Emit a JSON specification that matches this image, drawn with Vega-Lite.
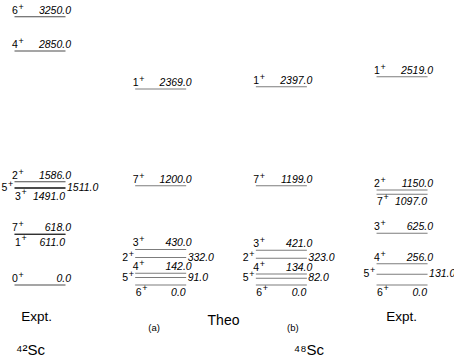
{
  "$schema": "https://vega.github.io/schema/vega-lite/v6.json",
  "width": 454,
  "height": 300,
  "padding": 0,
  "background": "white",
  "config": {"view": {"stroke": null}, "text": {"font": "Liberation Sans", "color": "black"}},
  "data": {"values": [
    {"col": "E42", "J": "6", "P": "+", "E": 3250.0, "pos": "above"},
    {"col": "E42", "J": "4", "P": "+", "E": 2850.0, "pos": "above"},
    {"col": "E42", "J": "2", "P": "+", "E": 1586.0, "pos": "above"},
    {"col": "E42", "J": "5", "P": "+", "E": 1511.0, "pos": "side"},
    {"col": "E42", "J": "3", "P": "+", "E": 1491.0, "pos": "below"},
    {"col": "E42", "J": "7", "P": "+", "E": 618.0, "pos": "above"},
    {"col": "E42", "J": "1", "P": "+", "E": 611.0, "pos": "below"},
    {"col": "E42", "J": "0", "P": "+", "E": 0.0, "pos": "above"},
    {"col": "TA", "J": "1", "P": "+", "E": 2369.0, "pos": "above"},
    {"col": "TA", "J": "7", "P": "+", "E": 1200.0, "pos": "above"},
    {"col": "TA", "J": "3", "P": "+", "E": 430.0, "pos": "above"},
    {"col": "TA", "J": "2", "P": "+", "E": 332.0, "pos": "side"},
    {"col": "TA", "J": "4", "P": "+", "E": 142.0, "pos": "above"},
    {"col": "TA", "J": "5", "P": "+", "E": 91.0, "pos": "side"},
    {"col": "TA", "J": "6", "P": "+", "E": 0.0, "pos": "below"},
    {"col": "TB", "J": "1", "P": "+", "E": 2397.0, "pos": "above"},
    {"col": "TB", "J": "7", "P": "+", "E": 1199.0, "pos": "above"},
    {"col": "TB", "J": "3", "P": "+", "E": 421.0, "pos": "above"},
    {"col": "TB", "J": "2", "P": "+", "E": 323.0, "pos": "side"},
    {"col": "TB", "J": "4", "P": "+", "E": 134.0, "pos": "above"},
    {"col": "TB", "J": "5", "P": "+", "E": 82.0, "pos": "side"},
    {"col": "TB", "J": "6", "P": "+", "E": 0.0, "pos": "below"},
    {"col": "E48", "J": "1", "P": "+", "E": 2519.0, "pos": "above"},
    {"col": "E48", "J": "2", "P": "+", "E": 1150.0, "pos": "above"},
    {"col": "E48", "J": "7", "P": "+", "E": 1097.0, "pos": "below"},
    {"col": "E48", "J": "3", "P": "+", "E": 625.0, "pos": "above"},
    {"col": "E48", "J": "4", "P": "+", "E": 256.0, "pos": "above"},
    {"col": "E48", "J": "5", "P": "+", "E": 131.0, "pos": "side"},
    {"col": "E48", "J": "6", "P": "+", "E": 0.0, "pos": "below"}
  ]},
  "encoding": {
    "x": {"field": "col", "type": "nominal", "scale": {"type": "point", "domain": ["E42", "TA", "TB", "E48"], "padding": 0.381, "align": 0.435}, "axis": null}
  },
  "layer": [
    {
      "transform": [{"filter": "datum.col == 'E42'"}],
      "encoding": {
        "y": {"field": "E", "type": "quantitative", "scale": {"domain": [-181, 618, 1550, 2850, 3446], "range": [300, 234, 185.5, 51, 0], "nice": false, "zero": false}, "axis": null}
      },
      "layer": [
        {
          "mark": {"type": "tick", "orient": "horizontal", "size": 51, "thickness": 1, "color": "#000000"}
        },
        {
          "transform": [{"filter": "datum.pos == 'above'"}],
          "mark": {"type": "text", "align": "left", "baseline": "alphabetic", "dx": -28, "dy": -3, "fontSize": 10.5},
          "encoding": {"text": {"field": "J"}}
        },
        {
          "transform": [{"filter": "datum.pos == 'above'"}],
          "mark": {"type": "text", "align": "left", "baseline": "alphabetic", "dx": -21.5, "dy": -7, "fontSize": 9},
          "encoding": {"text": {"field": "P"}}
        },
        {
          "transform": [{"filter": "datum.pos == 'above'"}],
          "mark": {"type": "text", "align": "right", "baseline": "alphabetic", "dx": 31, "dy": -3, "fontSize": 10.5, "fontStyle": "italic"},
          "encoding": {"text": {"field": "E", "type": "quantitative", "format": ".1f"}}
        },
        {
          "transform": [{"filter": "datum.pos == 'side'"}],
          "mark": {"type": "text", "align": "left", "baseline": "middle", "dx": -38.5, "dy": 0, "fontSize": 10.5},
          "encoding": {"text": {"field": "J"}}
        },
        {
          "transform": [{"filter": "datum.pos == 'side'"}],
          "mark": {"type": "text", "align": "left", "baseline": "middle", "dx": -32, "dy": -4, "fontSize": 9},
          "encoding": {"text": {"field": "P"}}
        },
        {
          "transform": [{"filter": "datum.pos == 'side'"}],
          "mark": {"type": "text", "align": "left", "baseline": "middle", "dx": 27, "dy": 0, "fontSize": 10.5, "fontStyle": "italic"},
          "encoding": {"text": {"field": "E", "type": "quantitative", "format": ".1f"}}
        },
        {
          "transform": [{"filter": "datum.pos == 'below'"}],
          "mark": {"type": "text", "align": "left", "baseline": "top", "dx": -25, "dy": 3, "fontSize": 10.5},
          "encoding": {"text": {"field": "J"}}
        },
        {
          "transform": [{"filter": "datum.pos == 'below'"}],
          "mark": {"type": "text", "align": "left", "baseline": "top", "dx": -18.5, "dy": -1, "fontSize": 9},
          "encoding": {"text": {"field": "P"}}
        },
        {
          "transform": [{"filter": "datum.pos == 'below'"}],
          "mark": {"type": "text", "align": "right", "baseline": "top", "dx": 25, "dy": 3, "fontSize": 10.5, "fontStyle": "italic"},
          "encoding": {"text": {"field": "E", "type": "quantitative", "format": ".1f"}}
        }
      ]
    },
    {
      "transform": [{"filter": "datum.col != 'E42'"}],
      "encoding": {
        "y": {"field": "E", "type": "quantitative", "scale": {"domain": [-181, 3446], "nice": false, "zero": false}, "axis": null}
      },
      "layer": [
        {
          "mark": {"type": "tick", "orient": "horizontal", "size": 51, "thickness": 1, "color": "#444444"},
          "encoding": {
            "x": {"field": "col", "type": "nominal", "axis": {
              "orient": "bottom",
              "title": "Theo", "titleFont": "Liberation Sans", "titleFontSize": 14, "titleFontWeight": "normal", "titleColor": "black",
              "titleX": 223, "titleY": 20, "titleBaseline": "middle",
              "domain": false, "ticks": false, "grid": false, "labelAngle": 0,
              "labelExpr": "datum.value == 'TA' ? '(a)' : datum.value == 'TB' ? '(b)' : 'Expt.'",
              "labelFont": "Liberation Sans", "labelColor": "black",
              "labelFontSize": {"condition": {"test": "datum.value == 'TA' || datum.value == 'TB'", "value": 9.5}, "value": 13.5},
              "labelPadding": {"condition": {"test": "datum.value == 'TA' || datum.value == 'TB'", "value": 22}, "value": 9},
              "labelOffset": {"condition": [{"test": "datum.value == 'E42'", "value": -4}, {"test": "datum.value == 'TA'", "value": -7}, {"test": "datum.value == 'TB'", "value": 11}], "value": -1}
            }}
          }
        },
        {
          "transform": [{"filter": "datum.pos == 'above'"}],
          "mark": {"type": "text", "align": "left", "baseline": "alphabetic", "dx": -28, "dy": -3, "fontSize": 10.5},
          "encoding": {"text": {"field": "J"}}
        },
        {
          "transform": [{"filter": "datum.pos == 'above'"}],
          "mark": {"type": "text", "align": "left", "baseline": "alphabetic", "dx": -21.5, "dy": -7, "fontSize": 9},
          "encoding": {"text": {"field": "P"}}
        },
        {
          "transform": [{"filter": "datum.pos == 'above'"}],
          "mark": {"type": "text", "align": "right", "baseline": "alphabetic", "dx": 31, "dy": -3, "fontSize": 10.5, "fontStyle": "italic"},
          "encoding": {
            "text": {"field": "E", "type": "quantitative", "format": ".1f"},
            "x": {"field": "col", "type": "nominal", "axis": {
              "orient": "bottom",
              "title": null, "domain": false, "ticks": false, "grid": false, "labelAngle": 0,
              "labelExpr": "datum.value == 'E42' ? '⁴²Sc' : datum.value == 'TB' ? '⁴⁸Sc' : ''",
              "labelFont": "Liberation Sans", "labelColor": "black", "labelFontSize": 15, "labelPadding": 42,
              "labelOffset": {"condition": {"test": "datum.value == 'E42'", "value": -10}, "value": 27}
            }}
          }
        },
        {
          "transform": [{"filter": "datum.pos == 'side'"}],
          "mark": {"type": "text", "align": "left", "baseline": "middle", "dx": -38.5, "dy": 0, "fontSize": 10.5},
          "encoding": {"text": {"field": "J"}}
        },
        {
          "transform": [{"filter": "datum.pos == 'side'"}],
          "mark": {"type": "text", "align": "left", "baseline": "middle", "dx": -32, "dy": -4, "fontSize": 9},
          "encoding": {"text": {"field": "P"}}
        },
        {
          "transform": [{"filter": "datum.pos == 'side'"}],
          "mark": {"type": "text", "align": "left", "baseline": "middle", "dx": 27, "dy": 0, "fontSize": 10.5, "fontStyle": "italic"},
          "encoding": {"text": {"field": "E", "type": "quantitative", "format": ".1f"}}
        },
        {
          "transform": [{"filter": "datum.pos == 'below'"}],
          "mark": {"type": "text", "align": "left", "baseline": "top", "dx": -25, "dy": 3, "fontSize": 10.5},
          "encoding": {"text": {"field": "J"}}
        },
        {
          "transform": [{"filter": "datum.pos == 'below'"}],
          "mark": {"type": "text", "align": "left", "baseline": "top", "dx": -18.5, "dy": -1, "fontSize": 9},
          "encoding": {"text": {"field": "P"}}
        },
        {
          "transform": [{"filter": "datum.pos == 'below'"}],
          "mark": {"type": "text", "align": "right", "baseline": "top", "dx": 25, "dy": 3, "fontSize": 10.5, "fontStyle": "italic"},
          "encoding": {"text": {"field": "E", "type": "quantitative", "format": ".1f"}}
        }
      ],
      "resolve": {"axis": {"x": "independent"}}
    }
  ],
  "resolve": {"scale": {"y": "independent"}, "axis": {"x": "independent"}}
}
